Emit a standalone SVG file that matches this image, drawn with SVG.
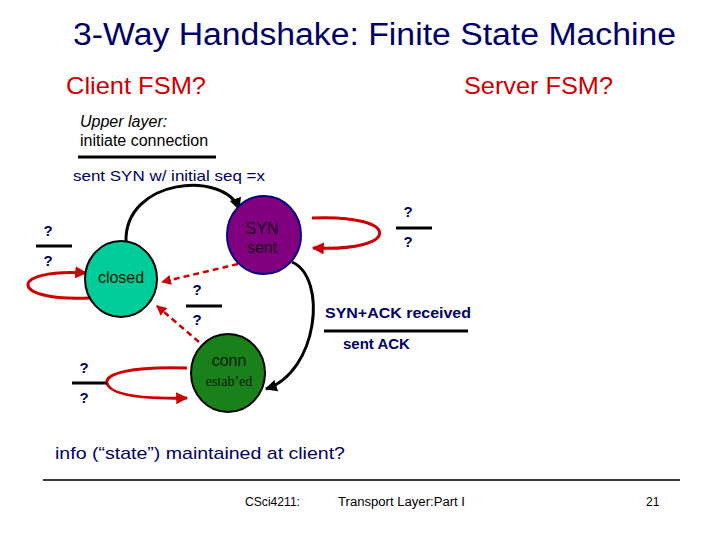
<svg xmlns="http://www.w3.org/2000/svg" width="720" height="540" viewBox="0 0 720 540">
<style>
.navy{fill:#000066;font-family:"Liberation Sans",Arial,sans-serif}
.q{fill:#000066;font-family:"Liberation Sans",Arial,sans-serif;font-size:15px;font-weight:bold;text-anchor:middle}
.bar{stroke:#000;stroke-width:3}
.red{fill:none;stroke:#cc0000;stroke-width:3}
.dash{fill:none;stroke:#cc0000;stroke-width:2.5;stroke-dasharray:6,4}
.blk{fill:none;stroke:#000;stroke-width:3}
.lbl{font-family:"Liberation Sans",Arial,sans-serif;font-size:16px;text-anchor:middle}
</style>
<defs>
<marker id="ar" viewBox="0 0 10 10" refX="9" refY="5" markerWidth="4" markerHeight="4" orient="auto"><path d="M0,0L10,5L0,10z" fill="#cc0000"/></marker>
<marker id="ab" viewBox="0 0 10 10" refX="9" refY="5" markerWidth="4" markerHeight="4" orient="auto"><path d="M0,0L10,5L0,10z" fill="#000"/></marker>
</defs>
<rect width="720" height="540" fill="#fff"/>
<text x="73" y="45" class="navy" font-size="31" textLength="603" lengthAdjust="spacingAndGlyphs">3-Way Handshake: Finite State Machine</text>
<text x="66" y="94" fill="#cc0000" font-family="Liberation Sans,Arial,sans-serif" font-size="24" textLength="140" lengthAdjust="spacingAndGlyphs">Client FSM?</text>
<text x="464" y="94" fill="#cc0000" font-family="Liberation Sans,Arial,sans-serif" font-size="24" textLength="149" lengthAdjust="spacingAndGlyphs">Server FSM?</text>
<text x="80" y="127" font-family="Liberation Sans,Arial,sans-serif" font-size="16" font-style="italic">Upper layer:</text>
<text x="80" y="146" font-family="Liberation Sans,Arial,sans-serif" font-size="16">initiate connection</text>
<line x1="78" y1="157" x2="216" y2="157" class="bar"/>
<text x="73" y="181" class="navy" font-size="15" textLength="192" lengthAdjust="spacingAndGlyphs">sent SYN w/ initial seq =x</text>
<g id="connectors">
<path d="M126,242 C124,178 225,170 239,209" class="blk" marker-end="url(#ab)"/>
<path d="M292,262 C328,278 318,372 266,389" class="blk" marker-end="url(#ab)"/>
<path d="M90,298 C8,302 8,268 86,273" class="red" marker-end="url(#ar)"/>
<path d="M312,218 C402,214 402,252 313,248" class="red" marker-end="url(#ar)"/>
<path d="M187,368 C130,366 105,374 107,383 C110,395 140,399 187,398" class="red" marker-end="url(#ar)"/>
<path d="M238,264 L162,282" class="dash" marker-end="url(#ar)"/>
<path d="M199,342 L157,306" class="dash" marker-end="url(#ar)"/>
<line x1="72" y1="383" x2="107" y2="383" class="bar"/>
</g>
<g id="closed">
<ellipse cx="121" cy="279" rx="36" ry="38" fill="#00cc99" stroke="#000" stroke-width="2"/>
<text x="121" y="283" class="lbl" fill="#001a00">closed</text>
</g>
<g id="synsent">
<ellipse cx="264" cy="235" rx="37" ry="39" fill="#800080" stroke="#000080" stroke-width="2"/>
<text x="262" y="234" class="lbl" fill="#1a001a">SYN</text>
<text x="262" y="253" class="lbl" fill="#1a001a">sent</text>
</g>
<g id="conn">
<ellipse cx="228" cy="373" rx="37" ry="39" fill="#1a801a" stroke="#000" stroke-width="2"/>
<text x="229" y="366" class="lbl" fill="#001a00">conn</text>
<text x="229" y="386" font-family="Liberation Serif,serif" font-size="14" text-anchor="middle" fill="#001a00">estab’ed</text>
</g>
<g id="labels">
<text x="48" y="236" class="q">?</text>
<line x1="36" y1="246" x2="72" y2="246" class="bar"/>
<text x="48" y="266" class="q">?</text>
<text x="408" y="217" class="q">?</text>
<line x1="396" y1="228" x2="432" y2="228" class="bar"/>
<text x="408" y="247" class="q">?</text>
<text x="197" y="295" class="q">?</text>
<line x1="186" y1="306" x2="222" y2="306" class="bar"/>
<text x="197" y="325" class="q">?</text>
<text x="84" y="373" class="q">?</text>
<text x="84" y="403" class="q">?</text>
<text x="325" y="318" class="navy" font-size="15" font-weight="bold" textLength="146" lengthAdjust="spacingAndGlyphs">SYN+ACK received</text>
<line x1="324" y1="331" x2="468" y2="331" class="bar"/>
<text x="343" y="349" class="navy" font-size="15" font-weight="bold">sent ACK</text>
</g>
<text x="55" y="459" class="navy" font-size="17" textLength="290" lengthAdjust="spacingAndGlyphs">info (“state”) maintained at client?</text>
<line x1="43" y1="480" x2="680" y2="480" stroke="#000" stroke-width="1.5"/>
<text x="245" y="506" font-family="Liberation Sans,Arial,sans-serif" font-size="12" textLength="55" lengthAdjust="spacingAndGlyphs">CSci4211:</text>
<text x="338" y="506" font-family="Liberation Sans,Arial,sans-serif" font-size="12" textLength="127" lengthAdjust="spacingAndGlyphs">Transport Layer:Part I</text>
<text x="646" y="506" font-family="Liberation Sans,Arial,sans-serif" font-size="12">21</text>
</svg>
